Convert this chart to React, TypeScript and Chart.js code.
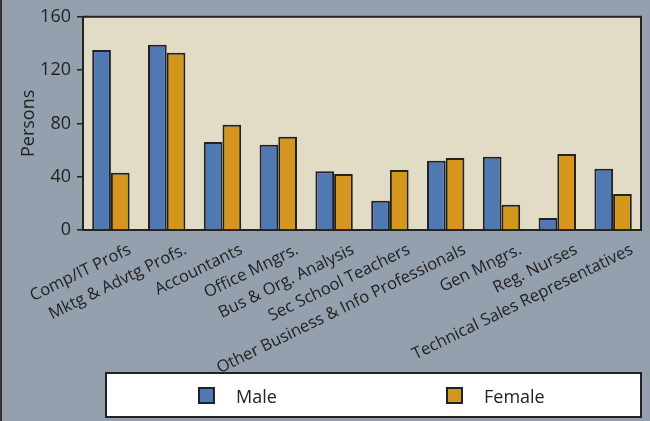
import React, { useEffect, useRef } from "react";
import { Chart, registerables } from "chart.js";

Chart.register(...registerables);

const categories = [
  "Comp/IT Profs",
  "Mktg & Advtg Profs.",
  "Accountants",
  "Office Mngrs.",
  "Bus & Org. Analysis",
  "Sec School Teachers",
  "Other Business & Info Professionals",
  "Gen Mngrs.",
  "Reg. Nurses",
  "Technical Sales Representatives",
];
const maleValues = [135, 139, 66, 64, 44, 22, 52, 55, 9, 46];
const femaleValues = [43, 133, 79, 70, 42, 45, 54, 19, 57, 27];
const yTicks = [0, 40, 80, 120, 160];

const FONT = "'Open Sans', 'DejaVu Sans', sans-serif";
const TEXT = "#222222";
const DARK = "#222222";
const BLUE = "#5079b4";
const GOLD = "#d4961c";

const bgPlugin = {
  id: "bgPlugin",
  beforeDraw(chart: any) {
    const { ctx, chartArea } = chart;
    ctx.save();
    ctx.fillStyle = "#95a0ae";
    ctx.fillRect(0, 0, chart.width, chart.height);
    ctx.fillStyle = "#e2dbc5";
    ctx.fillRect(chartArea.left, chartArea.top, chartArea.right - chartArea.left, chartArea.bottom - chartArea.top);
    ctx.fillStyle = "#333";
    ctx.fillRect(0, 0, 2, chart.height);
    ctx.restore();
  },
  afterDraw(chart: any) {
    const { ctx, chartArea } = chart;
    ctx.save();
    ctx.strokeStyle = DARK;
    ctx.lineWidth = 2;
    ctx.beginPath();
    ctx.moveTo(chartArea.left, chartArea.top);
    ctx.lineTo(chartArea.right, chartArea.top);
    ctx.lineTo(chartArea.right, chartArea.bottom);
    ctx.stroke();

    // legend box
    const lx = 106, ly = 373, lw = 535, lh = 44;
    ctx.fillStyle = "#ffffff";
    ctx.fillRect(lx, ly, lw, lh);
    ctx.strokeStyle = DARK;
    ctx.lineWidth = 2;
    ctx.strokeRect(lx, ly, lw, lh);
    const items = chart.data.datasets;
    const xs = [198, 446];
    items.forEach((ds: any, i: number) => {
      const bx = xs[i];
      ctx.fillStyle = ds.backgroundColor;
      ctx.fillRect(bx, 387, 17, 17);
      ctx.strokeStyle = DARK;
      ctx.lineWidth = 2;
      ctx.strokeRect(bx + 1, 388, 15, 15);
      ctx.fillStyle = TEXT;
      ctx.font = `18px ${FONT}`;
      ctx.textBaseline = "middle";
      ctx.textAlign = "left";
      ctx.fillText(ds.label, bx + 38, 398);
    });
    ctx.restore();
  },
};

export default function App() {
  const ref = useRef<HTMLCanvasElement>(null);
  useEffect(() => {
    if (!ref.current) return;
    const chart = new Chart(ref.current, {
      type: "bar",
      data: {
        labels: categories,
        datasets: [
          {
            label: "Male",
            data: maleValues,
            backgroundColor: BLUE,
            borderColor: DARK,
            borderWidth: 2,
            categoryPercentage: 0.67,
            barPercentage: 1.0,
          },
          {
            label: "Female",
            data: femaleValues,
            backgroundColor: GOLD,
            borderColor: DARK,
            borderWidth: 2,
            categoryPercentage: 0.67,
            barPercentage: 1.0,
          },
        ],
      },
      options: {
        animation: false,
        responsive: false,
        maintainAspectRatio: false,
        layout: { padding: { left: 0, right: 9, top: 15, bottom: 0 } },
        plugins: { legend: { display: false }, tooltip: { enabled: false } },
        scales: {
          x: {
            grid: { display: false },
            border: { display: true, color: DARK, width: 2 },
            ticks: {
              autoSkip: false,
              minRotation: 26,
              maxRotation: 26,
              labelOffset: 19,
              padding: 2,
              color: TEXT,
              font: { family: FONT, size: 16.5 },
            },
            afterFit: (s: any) => {
              s.height = 191;
            },
          },
          y: {
            min: 0,
            max: 160,
            afterBuildTicks: (s: any) => {
              s.ticks = yTicks.map((v) => ({ value: v }));
            },
            grid: {
              display: true,
              drawOnChartArea: false,
              drawTicks: true,
              tickLength: 6,
              color: DARK,
              lineWidth: 1.5,
            },
            border: { display: true, color: DARK, width: 2 },
            ticks: {
              padding: 6,
              color: TEXT,
              font: { family: FONT, size: 18 },
            },
            title: {
              display: true,
              text: "Persons",
              color: TEXT,
              font: { family: FONT, size: 18 },
              padding: { top: 18, bottom: 0 },
            },
            afterFit: (s: any) => {
              s.width = 83;
            },
          },
        },
      },
      plugins: [bgPlugin],
    });
    return () => chart.destroy();
  }, []);
  return (
    <div style={{ position: "absolute", left: 0, top: 0, width: 650, height: 421 }}>
      <canvas ref={ref} width={650} height={421} style={{ display: "block" }} />
    </div>
  );
}
